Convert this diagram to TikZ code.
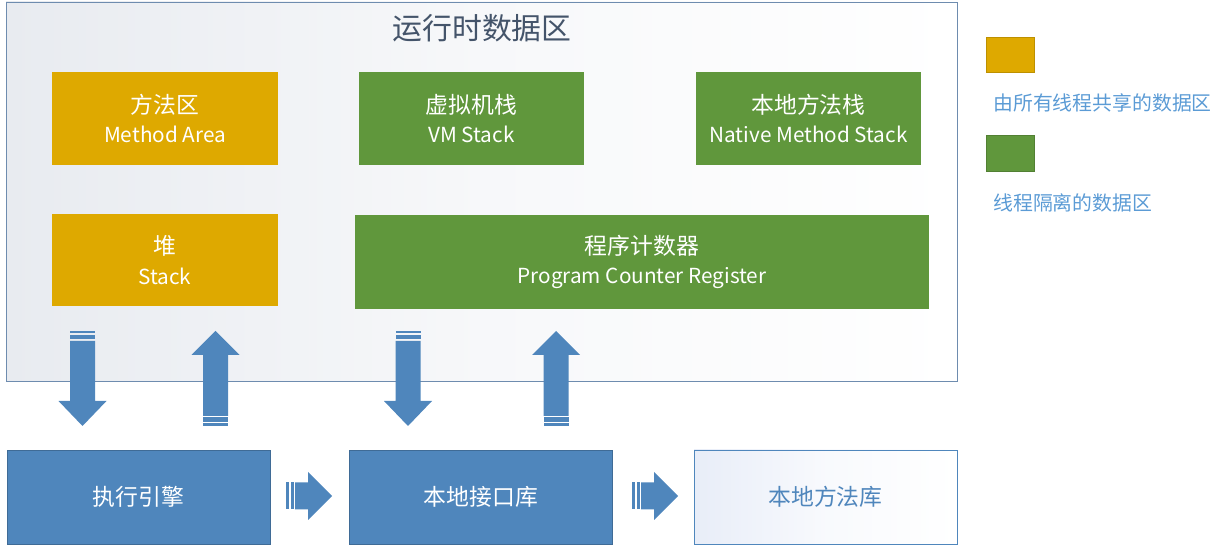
\documentclass[tikz,border=0pt]{standalone}
\usepackage{fontspec}
\setmainfont{Noto Sans CJK SC}
\usepackage{tikz}
\usetikzlibrary{positioning,calc}

\definecolor{sharedcol}{RGB}{222,169,0}
\definecolor{privcol}{RGB}{96,151,60}
\definecolor{enginecol}{RGB}{79,134,188}
\definecolor{framecol}{RGB}{110,140,175}
\definecolor{titlecol}{RGB}{68,84,106}
\definecolor{legendcol}{RGB}{91,155,213}
\definecolor{fadecol}{RGB}{232,235,240}
\definecolor{libfade}{RGB}{232,237,248}

\newcommand{\en}[1]{{\fontsize{11.8}{17}\selectfont #1}}

\tikzset{
  areabox/.style={draw=none, align=center, text=white,
    minimum width=4.52cm, minimum height=1.86cm,
    font=\fontsize{13}{17}\selectfont},
  sharedbox/.style={areabox, fill=sharedcol},
  privbox/.style={areabox, fill=privcol},
  enginebox/.style={draw=enginecol!80!black, fill=enginecol, text=white,
    minimum width=5.26cm, minimum height=1.88cm,
    font=\fontsize{13}{17}\selectfont},
  blockarrow/.style={fill=enginecol, draw=none},
  downarrow/.pic={
    \fill[blockarrow] (-12.5,0) rectangle (12.5,2.5);
    \fill[blockarrow] (-12.5,4) rectangle (12.5,8);
    \fill[blockarrow] (-12.5,10) -- (12.5,10) -- (12.5,70) -- (24,70)
      -- (0,95) -- (-24,70) -- (-12.5,70) -- cycle;
  },
  uparrow/.pic={
    \fill[blockarrow] (0,0) -- (24,24) -- (12.5,24) -- (12.5,85)
      -- (-12.5,85) -- (-12.5,24) -- (-24,24) -- cycle;
    \fill[blockarrow] (-12.5,86.5) rectangle (12.5,91);
    \fill[blockarrow] (-12.5,92.5) rectangle (12.5,95);
  },
  rightarrow/.pic={
    \fill[blockarrow] (0,-13.5) rectangle (3,13.5);
    \fill[blockarrow] (4.5,-13.5) rectangle (7.5,13.5);
    \fill[blockarrow] (9,-13.5) -- (22,-13.5) -- (22,-24) -- (46,0)
      -- (22,24) -- (22,13.5) -- (9,13.5) -- cycle;
  }
}

\begin{document}
\begin{tikzpicture}[x=0.02cm,y=-0.02cm]
  \useasboundingbox (0,0) rectangle (1224,553);

  % runtime data area
  \shade[left color=fadecol, right color=white, middle color=fadecol!35!white]
    (6,2) rectangle (957,381);
  \draw[framecol] (6,2) rectangle (957,381);
  \node[text=titlecol, font=\fontsize{17}{20}\selectfont] (title) at (482,28) {运行时数据区};

  \node[sharedbox] (method) at (165,118.5) {方法区\\\en{Method Area}};
  \node[privbox] (vmstack) at (471.5,118.5) {虚拟机栈\\\en{VM Stack}};
  \node[privbox] (native) at (808.5,118.5) {本地方法栈\\\en{Native Method Stack}};
  \node[sharedbox] (heap) at (165,260) {堆\\\en{Stack}};
  \node[privbox, minimum width=11.48cm, minimum height=1.88cm] (pc) at (642,262)
    {程序计数器\\\en{Program Counter Register}};

  % arrows between the area and the engine
  \pic at (82.5,331) {downarrow};
  \pic at (215.5,331) {uparrow};
  \pic at (408,331) {downarrow};
  \pic at (556,331) {uparrow};

  % bottom row
  \node[enginebox] (engine) at (138.5,497) {执行引擎};
  \node[enginebox] (nif) at (481,497) {本地接口库};
  \shade[left color=libfade, right color=white, middle color=libfade!30!white]
    (694,450) rectangle (957,544);
  \node[draw=enginecol, text=enginecol, minimum width=5.26cm, minimum height=1.88cm,
    font=\fontsize{13}{17}\selectfont] (lib) at (825.5,497) {本地方法库};

  \pic at (286,496) {rightarrow};
  \pic at (632,496) {rightarrow};

  % legend
  \node[fill=sharedcol, draw=sharedcol!85!black, minimum width=0.96cm, minimum height=0.7cm,
    inner sep=0pt] (keyshared) at (1010,54.5) {};
  \node[anchor=west, text=legendcol, font=\fontsize{11.3}{13}\selectfont, inner sep=0pt]
    (txtshared) at (993,103) {由所有线程共享的数据区};
  \node[fill=privcol, draw=privcol!85!black, minimum width=0.96cm, minimum height=0.72cm,
    inner sep=0pt] (keypriv) at (1010,153) {};
  \node[anchor=west, text=legendcol, font=\fontsize{11.3}{13}\selectfont, inner sep=0pt]
    (txtpriv) at (993,203) {线程隔离的数据区};
\end{tikzpicture}
\end{document}
